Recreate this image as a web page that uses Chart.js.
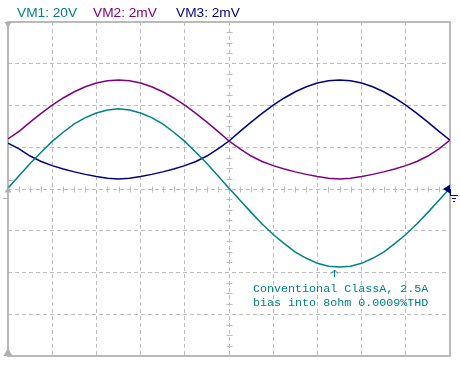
<!DOCTYPE html>
<html>
<head>
<meta charset="utf-8">
<script src="https://cdn.jsdelivr.net/npm/chart.js@4.4.1/dist/chart.umd.min.js"></script>
<style>
  html, body { margin: 0; padding: 0; background: #fff; }
  canvas { display: block; }
</style>
</head>
<body>
<canvas id="scope" width="460" height="375"></canvas>
<script>
// screen divisions across (10 div), sampled every 1/4 div
const xDiv = [0, 0.25, 0.5, 0.75, 1, 1.25, 1.5, 1.75, 2, 2.25, 2.5, 2.75, 3, 3.25, 3.5, 3.75,
  4, 4.25, 4.5, 4.75, 5, 5.25, 5.5, 5.75, 6, 6.25, 6.5, 6.75, 7, 7.25, 7.5, 7.75,
  8, 8.25, 8.5, 8.75, 9, 9.25, 9.5, 9.75, 10];

// traces, in vertical divisions (0 = centre line)
const vm1 = [0.02, 0.32, 0.61, 0.88, 1.14, 1.36, 1.56, 1.71, 1.82, 1.89, 1.92, 1.89, 1.82, 1.71,
  1.56, 1.36, 1.14, 0.88, 0.61, 0.32, 0.02, -0.27, -0.56, -0.84, -1.09, -1.31, -1.51, -1.66,
  -1.78, -1.85, -1.87, -1.85, -1.78, -1.66, -1.51, -1.31, -1.09, -0.84, -0.56, -0.27, 0.02];
const vm2 = [1.20, 1.38, 1.60, 1.81, 2.01, 2.18, 2.33, 2.45, 2.54, 2.59, 2.61, 2.59, 2.54, 2.45,
  2.33, 2.18, 2.01, 1.81, 1.60, 1.38, 1.15, 0.96, 0.79, 0.66, 0.56, 0.48, 0.41, 0.35,
  0.30, 0.26, 0.24, 0.26, 0.30, 0.35, 0.41, 0.48, 0.56, 0.66, 0.79, 0.96, 1.17];
const vm3 = [1.10, 0.96, 0.79, 0.66, 0.56, 0.48, 0.41, 0.35, 0.30, 0.26, 0.24, 0.26, 0.30, 0.35,
  0.41, 0.48, 0.56, 0.66, 0.79, 0.96, 1.15, 1.38, 1.60, 1.81, 2.01, 2.18, 2.33, 2.45,
  2.54, 2.59, 2.61, 2.59, 2.54, 2.45, 2.33, 2.18, 2.01, 1.81, 1.60, 1.38, 1.17];

const channelLabels = ["VM1: 20V", "VM2: 2mV", "VM3: 2mV"];
const channelColors = ["#008080", "#800080", "#000080"];
const noteLines = ["Conventional ClassA, 2.5A", "bias into 8ohm 0.0009%THD"];
const noteAt = [7.38, -1.87]; // VM1 trough the note points to

const gridGray = "#bdbdbd";

const toPoints = (ys) => ys.map((v, i) => ({ x: xDiv[i], y: v }));

// scope furniture: frame, minor ticks on the centre axes, markers, labels
const scopeDecor = {
  id: "scopeDecor",
  beforeDatasetsDraw(chart) {
    const { ctx, chartArea: a, scales: { x, y } } = chart;
    const cx = Math.round(x.getPixelForValue(5)) + 0.5;
    const cy = Math.round(y.getPixelForValue(0)) + 0.5;
    ctx.save();
    ctx.strokeStyle = gridGray;
    ctx.lineWidth = 1;
    ctx.beginPath();
    for (let i = 1; i < 40; i++) {
      if (i % 4 === 0) continue;
      const px = Math.round(x.getPixelForValue(i / 4)) + 0.5;
      ctx.moveTo(px, cy - 3);
      ctx.lineTo(px, cy + 3);
    }
    for (let i = -15; i < 16; i++) {
      if (i % 4 === 0) continue;
      const py = Math.round(y.getPixelForValue(i / 4)) + 0.5;
      ctx.moveTo(cx - 3, py);
      ctx.lineTo(cx + 3, py);
    }
    ctx.stroke();

    ctx.strokeStyle = "#bababa";
    ctx.lineWidth = 2;
    ctx.strokeRect(a.left, a.top, a.right - a.left, a.bottom - a.top);
    ctx.restore();
  },
  afterDraw(chart) {
    const { ctx, chartArea: a, scales: { x, y } } = chart;
    const zy = y.getPixelForValue(0);
    ctx.save();

    // channel header
    ctx.font = '13.7px "Liberation Sans", Arial, sans-serif';
    ctx.textBaseline = "alphabetic";
    const headX = [17, 93, 176];
    channelLabels.forEach((t, i) => {
      ctx.fillStyle = channelColors[i];
      ctx.fillText(t, headX[i], 17);
    });

    // grey markers on the left edge
    ctx.fillStyle = "#b0b0b0";
    ctx.beginPath();
    ctx.moveTo(a.left - 3.5, a.top); ctx.lineTo(a.left + 3.5, a.top); ctx.lineTo(a.left, a.top + 6);
    ctx.closePath(); ctx.fill();
    ctx.beginPath();
    ctx.moveTo(a.left - 4.5, a.bottom); ctx.lineTo(a.left + 4.5, a.bottom); ctx.lineTo(a.left, a.bottom - 8);
    ctx.closePath(); ctx.fill();
    ctx.beginPath();
    ctx.moveTo(a.left - 3.5, zy + 3.5); ctx.lineTo(a.left + 3.5, zy + 3.5); ctx.lineTo(a.left, zy - 2.5);
    ctx.closePath(); ctx.fill();
    ctx.strokeStyle = "#b0b0b0";
    ctx.lineWidth = 1;
    ctx.beginPath();
    ctx.moveTo(a.left, zy - 8.5); ctx.lineTo(a.left + 5, zy - 8.5);
    ctx.moveTo(a.left - 5, zy + 9.5); ctx.lineTo(a.left, zy + 9.5);
    ctx.stroke();

    // trigger arrow and ground symbol on the right
    ctx.fillStyle = "#000080";
    ctx.beginPath();
    ctx.moveTo(a.right - 7, zy); ctx.lineTo(a.right, zy - 4.5); ctx.lineTo(a.right, zy + 4.5);
    ctx.closePath(); ctx.fill();
    ctx.strokeStyle = "#000080";
    ctx.lineWidth = 1;
    ctx.beginPath();
    ctx.moveTo(a.right + 0.5, zy); ctx.lineTo(a.right + 0.5, zy + 6.5);
    ctx.moveTo(a.right, zy + 6.5); ctx.lineTo(a.right + 8, zy + 6.5);
    ctx.moveTo(a.right + 2, zy + 9.5); ctx.lineTo(a.right + 6, zy + 9.5);
    ctx.moveTo(a.right + 3, zy + 12.5); ctx.lineTo(a.right + 5, zy + 12.5);
    ctx.stroke();

    // note pointing at the VM1 trough
    const tx = Math.round(x.getPixelForValue(noteAt[0])) + 0.5;
    const ty = Math.round(y.getPixelForValue(noteAt[1])) + 3;
    ctx.strokeStyle = "#008080";
    ctx.beginPath();
    ctx.moveTo(tx, ty); ctx.lineTo(tx, ty + 7);
    ctx.moveTo(tx - 3.5, ty + 3.5); ctx.lineTo(tx, ty); ctx.lineTo(tx + 3.5, ty + 3.5);
    ctx.stroke();
    ctx.fillStyle = "#008080";
    ctx.font = '11.7px "Liberation Mono", "Courier New", monospace';
    noteLines.forEach((t, i) => ctx.fillText(t, tx - 81.5, ty + 22 + i * 14));

    ctx.restore();
  }
};

new Chart(document.getElementById("scope"), {
  type: "line",
  data: {
    datasets: [
      { label: channelLabels[0], data: toPoints(vm1), borderColor: channelColors[0] },
      { label: channelLabels[1], data: toPoints(vm2), borderColor: channelColors[1] },
      { label: channelLabels[2], data: toPoints(vm3), borderColor: channelColors[2] }
    ]
  },
  options: {
    responsive: false,
    animation: false,
    devicePixelRatio: 1,
    layout: { padding: { left: 8, top: 22, right: 10, bottom: 19 } },
    elements: {
      line: { borderWidth: 1.5, tension: 0, fill: false },
      point: { radius: 0 }
    },
    plugins: {
      legend: { display: false },
      tooltip: { enabled: false }
    },
    scales: {
      x: {
        type: "linear",
        min: 0,
        max: 10,
        ticks: { display: false, stepSize: 1 },
        grid: { color: gridGray, lineWidth: 1, drawTicks: false },
        border: { display: false, dash: [4, 3] }
      },
      y: {
        type: "linear",
        min: -4,
        max: 4,
        ticks: { display: false, stepSize: 1 },
        grid: { color: gridGray, lineWidth: 1, drawTicks: false },
        border: { display: false, dash: [4, 3] }
      }
    }
  },
  plugins: [scopeDecor]
});
</script>
</body>
</html>
